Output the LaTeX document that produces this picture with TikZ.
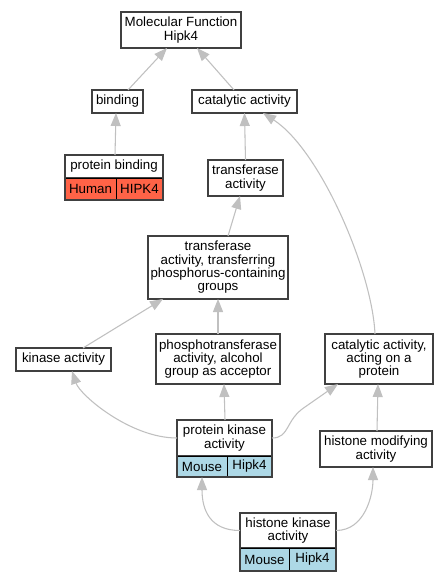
\documentclass[tikz,border=0pt]{standalone}
\usepackage{fontspec}
\setmainfont{Liberation Sans}
\usetikzlibrary{arrows.meta,calc}

\definecolor{edgegray}{HTML}{C0C0C0}
\definecolor{boxgray}{HTML}{404040}
\definecolor{humanred}{HTML}{FF6347}
\definecolor{mouseblue}{HTML}{ADD8E6}

\tikzset{
  gobox/.style 2 args={draw=boxgray, line width=1.3pt, fill=white, inner sep=0pt,
    outer sep=0pt, align=center, minimum width=#1*0.75pt, minimum height=#2*0.75pt},
  cellbox/.style 2 args={draw=black, line width=0.6pt, inner sep=0pt, outer sep=0pt,
    minimum width=#1*0.75pt, minimum height=#2*0.75pt},
  outline/.style={draw=boxgray, line width=1.3pt},
  isa/.style={draw=edgegray, line width=0.8pt,
    -{Triangle[length=9.75pt,width=7.5pt,fill=edgegray]}}
}

\begin{document}
\begin{tikzpicture}[x=0.75pt, y=-0.75pt, font=\fontsize{10pt}{10pt}\selectfont]

    \useasboundingbox[fill=white] (0,0) rectangle (448,581);

    % terms
    \node[gobox={120}{36}] (mf) at (181,30) {Molecular Function\\Hipk4};
    \node[gobox={51}{23}] (binding) at (117.5,101.5) {binding};
    \node[gobox={105}{23}] (catalytic) at (244.5,101.5) {catalytic activity};
    \node[gobox={75}{36}] (transferase) at (245.5,178) {transferase\\activity};
    \node[gobox={140}{63}] (transferring) at (218,267.5) {transferase\\activity, transferring\\phosphorus-containing\\groups};
    \node[gobox={95}{23}] (kinase) at (63.5,359.5) {kinase activity};
    \node[gobox={124}{50}] (phospho) at (218,359) {phosphotransferase\\activity, alcohol\\group as acceptor};
    \node[gobox={108}{50}] (acting) at (379,359) {catalytic activity,\\acting on a\\protein};
    \node[gobox={112}{36}] (histmod) at (376,449) {histone modifying\\activity};

    % annotated terms
    \node[gobox={98}{23}] (pb) at (114,166.5) {protein binding};
    \node[cellbox={51}{22}, fill=humanred] (pbhuman) at (90.5,189) {Human};
    \node[cellbox={47}{22}, fill=humanred] (pbhipk) at (139.5,189) {HIPK4};
    \draw[outline] (pb.north west) rectangle (pbhipk.south east);

    \node[gobox={95}{36}] (pk) at (224.5,438) {protein kinase\\activity};
    \node[cellbox={50}{21}, fill=mouseblue] (pkmouse) at (202,466.5) {Mouse};
    \node[cellbox={45}{21}, fill=mouseblue] (pkhipk) at (249.5,466.5) {Hipk4};
    \draw[outline] (pk.north west) rectangle (pkhipk.south east);

    \node[gobox={96}{35}] (hk) at (288,530.5) {histone kinase\\activity};
    \node[cellbox={49}{23}, fill=mouseblue] (hkmouse) at (264.5,559.5) {Mouse};
    \node[cellbox={47}{23}, fill=mouseblue] (hkhipk) at (312.5,559.5) {Hipk4};
    \draw[outline] (hk.north west) rectangle (hkhipk.south east);

    % is_a edges
    \draw[isa] ($(binding.north)+(10.5,0)$) -- ($(mf.south)+(-14,0)$);
    \draw[isa] ($(catalytic.north)+(-10.5,0)$) -- ($(mf.south)+(16,0)$);
    \draw[isa] ($(pb.north)+(1,0)$) -- ($(binding.south)+(-1.5,0)$);
    \draw[isa] (transferase.north) -- (catalytic.south);
    \draw[isa] ($(acting.north)+(-4,0)$) .. controls (372,270) and (320,150) .. ($(catalytic.south)+(18.5,0)$);
    \draw[isa] ($(transferring.north)+(10,0)$) -- ($(transferase.south)+(-5.5,0)$);
    \draw[isa] ($(kinase.north)+(19.5,0)$) -- ($(transferring.south)+(-55,0)$);
    \draw[isa] (phospho.north) -- (transferring.south);
    \draw[isa] (pk.west) .. controls (130,438) and (80,395) .. ($(kinase.south)+(8.5,0)$);
    \draw[isa] ($(pk.north)+(0.5,0)$) -- ($(phospho.south)+(6,0)$);
    \draw[isa] (pk.east) .. controls (290,438) and (285,420) .. (305,407) -- ($(acting.south)+(-41,0)$);
    \draw[isa] ($(histmod.north)+(1,0)$) -- ($(acting.south)+(-1,0)$);
    \draw[isa] (hk.west) .. controls (210,530.5) and (202,510) .. (pkmouse.south);
    \draw[isa] (hk.east) .. controls (365,530.5) and (373,495) .. ($(histmod.south)+(-3,0)$);

\end{tikzpicture}
\end{document}
